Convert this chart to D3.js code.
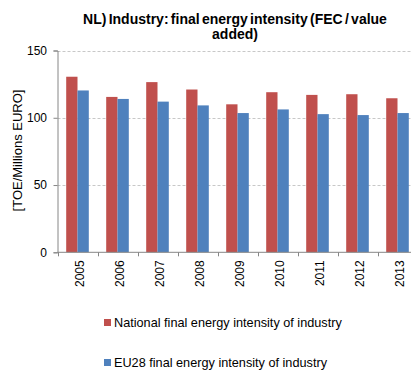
<!DOCTYPE html>
<html>
<head>
<meta charset="utf-8">
<script src="https://cdn.jsdelivr.net/npm/d3@7"></script>
<style>
  html, body { margin: 0; padding: 0; background: #fff; overflow: hidden; }
  svg { display: block; font-family: "Liberation Sans", Arial, sans-serif; }
</style>
</head>
<body>
<svg id="chart" width="411" height="372"></svg>
<script>
// Final energy intensity of industry, TOE per million EURO of value added
const years = ["2005", "2006", "2007", "2008", "2009", "2010", "2011", "2012", "2013"];
const nationalValues = [130.5, 115.5, 126.5, 121, 110, 119, 117, 117.5, 114.5];
const eu28Values = [120.3, 114, 112, 109.2, 103.5, 106.2, 102.7, 102, 103.5];
const yTicks = [0, 50, 100, 150];
const seriesNames = ["National final energy intensity of industry", "EU28 final energy intensity of industry"];
const seriesColors = ["#C0504D", "#4F81BD"];

const svg = d3.select("#chart");
const plot = { left: 57.5, right: 417.5, top: 50.5, bottom: 252.3 };

const x0 = d3.scaleBand().domain(years).range([plot.left, plot.right])
  .paddingInner(0.435).paddingOuter(0.2175);
const x1 = d3.scaleBand().domain(seriesNames).range([0, x0.bandwidth()]);
const y = d3.scaleLinear().domain([0, 150]).range([plot.bottom, plot.top]);

// Title (two lines)
const title = svg.append("text")
  .attr("x", 235).attr("y", 24)
  .attr("text-anchor", "middle")
  .attr("font-size", 14).attr("font-weight", "bold")
  .attr("word-spacing", -1.6)
  .attr("fill", "#000");
title.append("tspan").attr("x", 235).attr("dy", 0).text("NL) Industry: final energy intensity (FEC / value");
title.append("tspan").attr("x", 235).attr("dy", 14.5).text("added)");

// Gridlines
svg.append("g")
  .selectAll("line").data(yTicks.filter(d => d > 0)).join("line")
  .attr("x1", plot.left).attr("x2", plot.right)
  .attr("y1", d => Math.round(y(d)) + 0.5).attr("y2", d => Math.round(y(d)) + 0.5)
  .attr("stroke", "#c8c8c8").attr("stroke-width", 1)
  .attr("stroke-dasharray", "3,2");

// Bars
const data = years.map((yr, i) => ({ year: yr, values: [nationalValues[i], eu28Values[i]] }));
const groups = svg.append("g").selectAll("g").data(data).join("g")
  .attr("transform", d => `translate(${x0(d.year)},0)`);
groups.selectAll("rect")
  .data(d => d.values.map((v, k) => ({ key: seriesNames[k], value: v, k })))
  .join("rect")
  .attr("x", d => x1(d.key))
  .attr("width", x1.bandwidth())
  .attr("y", d => y(d.value))
  .attr("height", d => y(0) - y(d.value))
  .attr("fill", d => seriesColors[d.k]);

// Y axis
const yAxis = d3.axisLeft(y).tickValues(yTicks).tickSize(4).tickPadding(6.5);
const gy = svg.append("g").attr("transform", `translate(${plot.left},0)`).call(yAxis);
gy.select(".domain").attr("stroke", "#868686");
gy.selectAll(".tick line").attr("stroke", "#868686");
gy.selectAll(".tick text").attr("font-size", 12).attr("fill", "#000")
  .attr("font-family", "Liberation Sans, Arial, sans-serif");

// X axis baseline and category boundary ticks
const step = x0.step();
const boundaries = d3.range(years.length + 1).map(i => plot.left + i * step);
svg.append("line")
  .attr("x1", plot.left).attr("x2", plot.right)
  .attr("y1", plot.bottom).attr("y2", plot.bottom)
  .attr("stroke", "#868686");
svg.append("g").selectAll("line").data(boundaries).join("line")
  .attr("x1", d => Math.round(d) + 0.5).attr("x2", d => Math.round(d) + 0.5)
  .attr("y1", plot.bottom).attr("y2", plot.bottom + 4)
  .attr("stroke", "#868686");

// Rotated year labels
svg.append("g").selectAll("text").data(years).join("text")
  .attr("transform", d => `translate(${x0(d) + x0.bandwidth() / 2 + 6.5},${plot.bottom + 8}) rotate(-90)`)
  .attr("text-anchor", "end")
  .attr("font-size", 12).attr("fill", "#000")
  .text(d => d);

// Y axis title
svg.append("text")
  .attr("transform", `translate(21.5,150.5) rotate(-90)`)
  .attr("text-anchor", "middle")
  .attr("font-size", 13).attr("fill", "#000")
  .text("[TOE/Millions EURO]");

// Legend
const legendRows = [322.5, 362.5];
const legend = svg.append("g").selectAll("g").data(seriesNames).join("g")
  .attr("transform", (d, i) => `translate(104,${legendRows[i]})`);
legend.append("rect")
  .attr("x", 0).attr("y", -3.5).attr("width", 7).attr("height", 7)
  .attr("fill", (d, i) => seriesColors[i]);
legend.append("text")
  .attr("x", 10).attr("y", 0).attr("dy", "0.35em")
  .attr("font-size", 12.7).attr("fill", "#000")
  .text(d => d);
</script>
</body>
</html>
